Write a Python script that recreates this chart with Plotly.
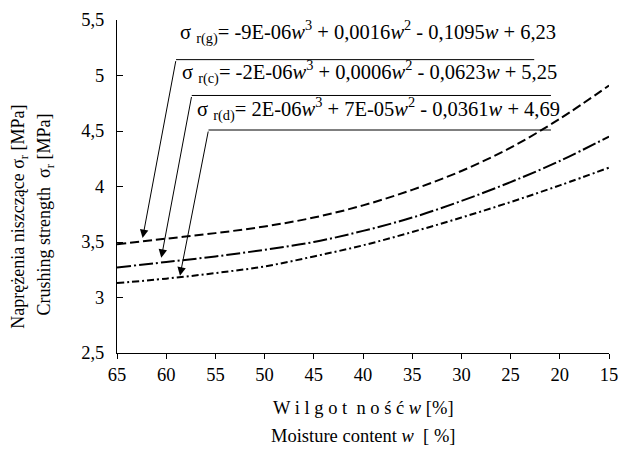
import plotly.graph_objects as go

# ---- data ----
moisture = [65, 60, 55, 50, 45, 40, 35, 30, 25, 20, 15]
sigma_g = [3.48, 3.53, 3.58, 3.64, 3.72, 3.83, 3.97, 4.14, 4.35, 4.61, 4.91]
sigma_c = [3.27, 3.32, 3.37, 3.43, 3.50, 3.60, 3.72, 3.87, 4.04, 4.23, 4.45]
sigma_d = [3.13, 3.17, 3.22, 3.28, 3.37, 3.47, 3.59, 3.72, 3.86, 4.01, 4.17]

x_ticks = [65, 60, 55, 50, 45, 40, 35, 30, 25, 20, 15]
y_ticks = [2.5, 3, 3.5, 4, 4.5, 5, 5.5]

eq_g = "σ <sub>r(g)</sub>= -9E-06<i>w</i><sup>3</sup> + 0,0016<i>w</i><sup>2</sup> - 0,1095<i>w</i> + 6,23"
eq_c = "σ <sub>r(c)</sub>= -2E-06<i>w</i><sup>3</sup> + 0,0006<i>w</i><sup>2</sup> - 0,0623<i>w</i> + 5,25"
eq_d = "σ <sub>r(d)</sub>= 2E-06<i>w</i><sup>3</sup> + 7E-05<i>w</i><sup>2</sup> - 0,0361<i>w</i> + 4,69"

FONT = "Times New Roman, Liberation Serif, serif"

fig = go.Figure()
fig.add_trace(go.Scatter(x=moisture, y=sigma_g, mode="lines", line_shape="spline",
                         line=dict(color="black", width=2, dash="9px,4px")))
fig.add_trace(go.Scatter(x=moisture, y=sigma_c, mode="lines", line_shape="spline",
                         line=dict(color="black", width=2, dash="14px,3px,2px,3px")))
fig.add_trace(go.Scatter(x=moisture, y=sigma_d, mode="lines", line_shape="spline",
                         line=dict(color="black", width=2, dash="7px,3px,2px,3px")))

# equation labels with underline and arrow
labels = [
    # text, text_x, text_y, line_x0, line_x1, line_y, tip_x, tip_y
    (eq_g, 58.8, 5.39, 59.0, 22.6, 5.143, 62.4, 3.535),
    (eq_c, 58.6, 5.03, 57.4, 20.9, 4.82, 60.5, 3.357),
    (eq_d, 57.1, 4.70, 55.7, 20.9, 4.509, 58.6, 3.196),
]
for txt, tx, ty, lx0, lx1, ly, ax_, ay_ in labels:
    fig.add_annotation(x=tx, y=ty, xref="x", yref="y", text=txt, showarrow=False,
                       xanchor="left", yanchor="middle",
                       font=dict(family=FONT, size=20.5, color="black"))
    fig.add_shape(type="line", xref="x", yref="y", x0=lx0, x1=lx1, y0=ly, y1=ly,
                  line=dict(color="black", width=1))
    fig.add_annotation(x=ax_, y=ay_, xref="x", yref="y", ax=lx0, ay=ly,
                       axref="x", ayref="y", text="", showarrow=True,
                       arrowhead=2, arrowsize=1.7, arrowwidth=1, arrowcolor="black")

# axis titles
ytitles = [("Naprężenia niszczące σ<sub>r</sub> [MPa]", -0.198, 0.408),
           ("Crushing strength  σ<sub>r</sub> [MPa]", -0.145, 0.415)]
for t, xp, yp in ytitles:
    fig.add_annotation(x=xp, y=yp, xref="paper", yref="paper", text=t, showarrow=False,
                       textangle=-90, xanchor="center", yanchor="middle",
                       font=dict(family=FONT, size=18, color="black"))

xtitles = [("W i l g o t  n o ś ć <i>w</i> [%]", -0.165),
           ("Moisture content <i>w</i>  [ %]", -0.248)]
for t, yp in xtitles:
    fig.add_annotation(x=0.5, y=yp, xref="paper", yref="paper", text=t, showarrow=False,
                       xanchor="center", yanchor="middle",
                       font=dict(family=FONT, size=18.5, color="black"))

fig.update_layout(
    width=628, height=451,
    margin=dict(l=117, r=10, t=17, b=98),
    paper_bgcolor="white", plot_bgcolor="white",
    showlegend=False,
    separators=", ",
    font=dict(family=FONT, size=18, color="black"),
    xaxis=dict(range=[65, 15], tickvals=x_ticks, ticks="outside", ticklen=5,
               tickcolor="black", showline=True, linecolor="black", linewidth=1,
               showgrid=False, zeroline=False, mirror=False,
               tickfont=dict(family=FONT, size=18.5, color="black")),
    yaxis=dict(range=[2.5, 5.5], tickvals=y_ticks, ticks="inside", ticklen=6,
               tickcolor="black", showline=True, linecolor="black", linewidth=1,
               showgrid=False, zeroline=False,
               tickfont=dict(family=FONT, size=18.5, color="black"),
               ticklabelstandoff=8),
)

fig.write_html("out.html")
